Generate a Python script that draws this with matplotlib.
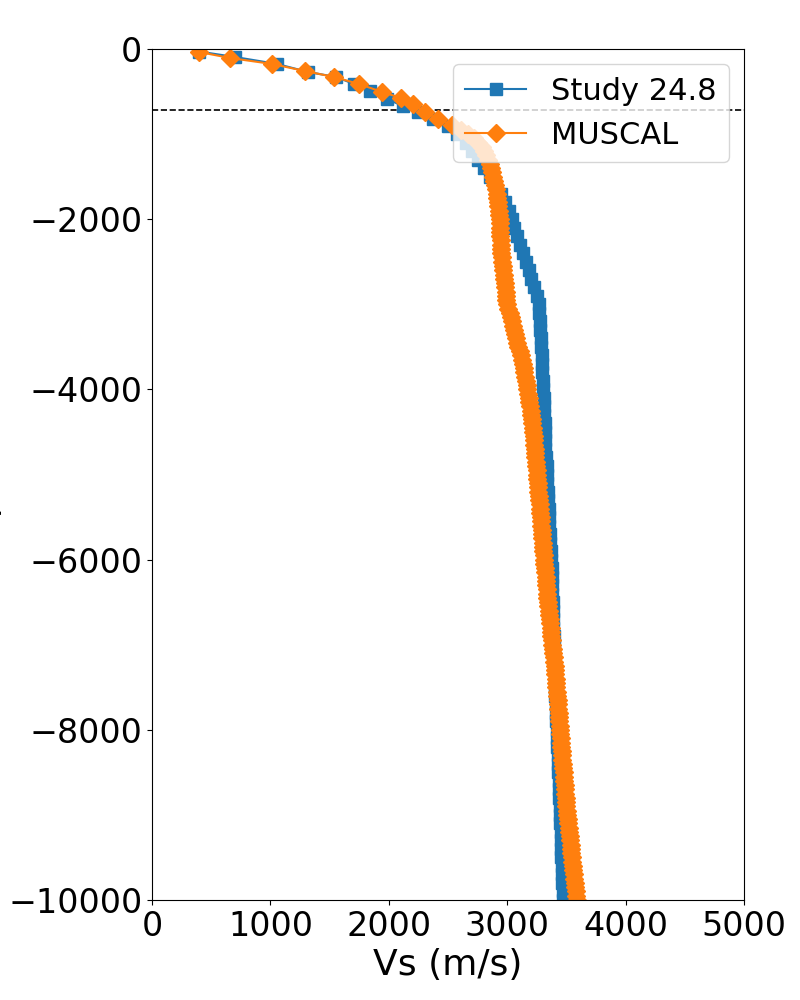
import numpy as np
import matplotlib
matplotlib.use('Agg')
import matplotlib.pyplot as plt

study_top_depth = [-30, -94, -176, -270, -329, -411, -494, -588, -670, -740, -823, -905]
study_top_vs = [398, 701, 1056, 1318, 1554, 1706, 1841, 1985, 2120, 2247, 2373, 2500]
study_deep_depth = np.arange(-1000, -10001, -100)
study_deep_vs = [
    2580, 2650, 2705, 2755, 2805, 2855, 2900, 2945, 2985, 3015,
    3040, 3060, 3080, 3105, 3135, 3160, 3180, 3205, 3228, 3250,
    3265, 3270, 3274, 3279, 3283, 3287, 3290, 3294, 3298, 3301,
    3304, 3307, 3310, 3313, 3316, 3318, 3320, 3323, 3327, 3332,
    3336, 3339, 3343, 3346, 3350, 3353, 3357, 3361, 3365, 3369,
    3373, 3376, 3378, 3380, 3382, 3384, 3386, 3388, 3390, 3392,
    3394, 3396, 3398, 3400, 3402, 3404, 3406, 3409, 3411, 3414,
    3417, 3420, 3423, 3426, 3430, 3433, 3436, 3438, 3441, 3443,
    3446, 3448, 3451, 3453, 3456, 3458, 3461, 3463, 3466, 3468,
    3471,
]

# MUSCAL profile - shallow points, then every 50 m
muscal_top_depth = [-35, -106, -176, -259, -329, -411, -505, -576, -646, -740, -823, -893, -950]
muscal_top_vs = [397, 659, 1014, 1292, 1537, 1748, 1943, 2103, 2204, 2306, 2416, 2534, 2610]
muscal_deep_depth = np.arange(-1000, -10001, -50)
muscal_deep_vs = [
    2670, 2720, 2755, 2785, 2805, 2825, 2840, 2855, 2865, 2875,
    2882, 2890, 2897, 2903, 2910, 2915, 2920, 2925, 2930, 2933,
    2936, 2938, 2940, 2942, 2943, 2944, 2946, 2948, 2951, 2955,
    2959, 2963, 2967, 2971, 2975, 2979, 2983, 2986, 2989, 2992,
    3000, 3010, 3020, 3030, 3040, 3050, 3060, 3068, 3077, 3086,
    3095, 3104, 3113, 3122, 3131, 3138, 3145, 3152, 3158, 3164,
    3170, 3176, 3182, 3188, 3193, 3198, 3203, 3208, 3212, 3216,
    3220, 3223, 3226, 3229, 3232, 3235, 3238, 3241, 3245, 3249,
    3252, 3255, 3258, 3261, 3264, 3267, 3270, 3273, 3276, 3279,
    3282, 3285, 3288, 3291, 3294, 3297, 3300, 3303, 3306, 3309,
    3312, 3315, 3318, 3321, 3324, 3327, 3330, 3333, 3336, 3339,
    3342, 3346, 3350, 3354, 3358, 3362, 3366, 3370, 3374, 3378,
    3382, 3386, 3390, 3394, 3398, 3401, 3404, 3407, 3410, 3413,
    3416, 3419, 3422, 3425, 3428, 3431, 3434, 3437, 3440, 3443,
    3446, 3449, 3452, 3455, 3458, 3461, 3464, 3467, 3470, 3473,
    3476, 3479, 3482, 3485, 3488, 3491, 3494, 3497, 3500, 3503,
    3507, 3511, 3515, 3519, 3523, 3527, 3531, 3535, 3539, 3543,
    3547, 3551, 3555, 3559, 3563, 3567, 3571, 3575, 3579, 3583,
    3588,
]

ref_depth = -717  # dashed reference line

study_depth = np.concatenate([study_top_depth, study_deep_depth])
study_vs = np.concatenate([study_top_vs, study_deep_vs])
muscal_depth = np.concatenate([muscal_top_depth, muscal_deep_depth])
muscal_vs = np.concatenate([muscal_top_vs, muscal_deep_vs])

fig = plt.figure(figsize=(8, 10), dpi=100)
ax = fig.add_axes([0.19, 0.1, 0.74, 0.851])

ax.axhline(ref_depth, color='k', linestyle='--', linewidth=1.2)
ax.plot(study_vs, study_depth, marker='s', markersize=9, label='Study 24.8')
ax.plot(muscal_vs, muscal_depth, marker='D', markersize=9, label='MUSCAL')

ax.set_xlim(0, 5000)
ax.set_ylim(-10000, 0)
ax.set_xticks([0, 1000, 2000, 3000, 4000, 5000])
ax.set_yticks([0, -2000, -4000, -6000, -8000, -10000])
ax.tick_params(labelsize=24)
ax.set_xlabel('Vs (m/s)', fontsize=26)
ax.set_ylabel('Depth (m)', fontsize=26)
ax.yaxis.set_label_coords(-0.2542, 0.5)
ax.legend(loc='upper right', fontsize=22)

plt.savefig('out.png', dpi=100)
